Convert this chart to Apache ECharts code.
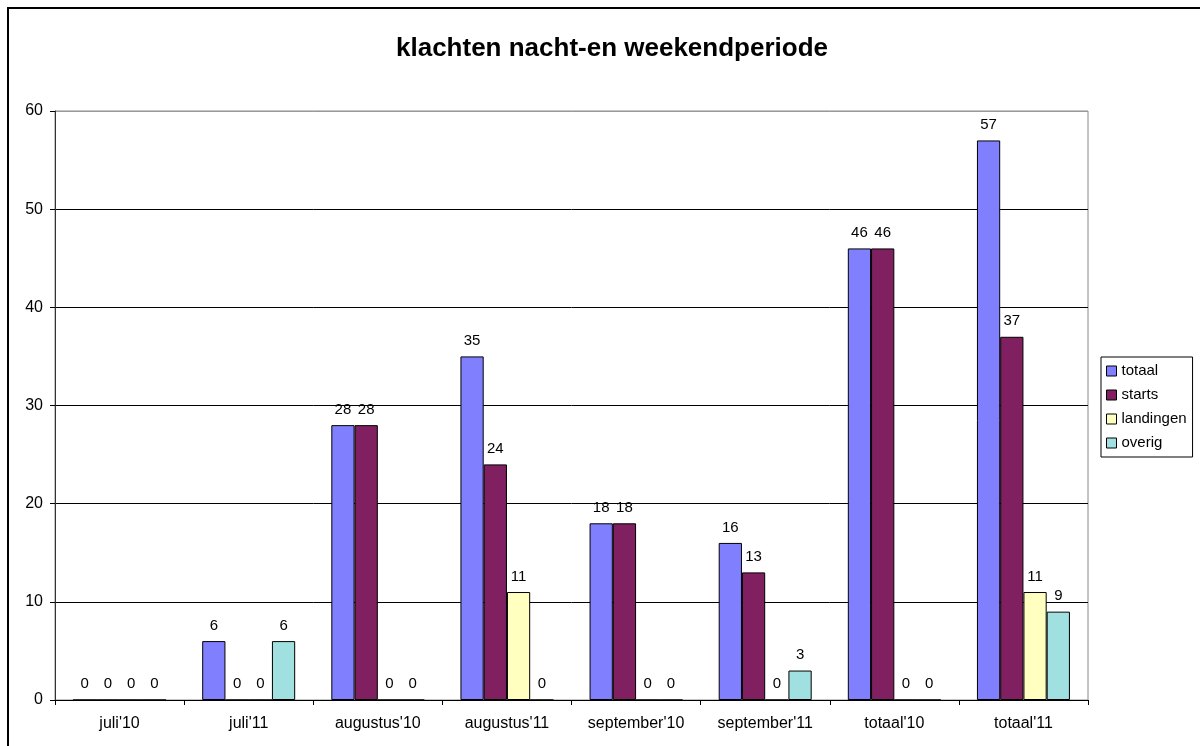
<!DOCTYPE html>
<html><head><meta charset="utf-8">
<script src="https://cdn.jsdelivr.net/npm/echarts@6/dist/echarts.min.js"></script>
<style>html,body{margin:0;padding:0;background:#fff}#c{width:1200px;height:746px}</style>
</head><body><div id="c"></div>
<script>
var categories = ["juli'10","juli'11","augustus'10","augustus'11","september'10","september'11","totaal'10","totaal'11"];
var totaal = [0,6,28,35,18,16,46,57];
var starts = [0,0,28,24,18,13,46,37];
var landingen = [0,0,0,11,0,0,0,11];
var overig = [0,6,0,0,0,3,0,9];
var seriesNames = ["totaal","starts","landingen","overig"];
var seriesColors = ["#8080FF","#802060","#FFFFC0","#A0E0E0"];
var seriesData = [totaal, starts, landingen, overig];

var chart = echarts.init(document.getElementById('c'));
var font = 'Arial, "Liberation Sans", sans-serif';
chart.setOption({
  animation: false,
  textStyle: {fontFamily: font},
  title: {text: 'klachten nacht-en weekendperiode', left: 607, textAlign: 'center', top: 31,
    textStyle: {fontSize: 26, fontWeight: 'bold', color: '#000', fontFamily: font}},
  graphic: [{type: 'rect', shape: {x: 8, y: 8, width: 1400, height: 900}, style: {fill: 'none', stroke: '#000', lineWidth: 2}, silent: true}],
  legend: {orient: 'vertical', left: 1101, top: 357, itemWidth: 10, itemHeight: 10, itemGap: 8,
    padding: [6, 6, 6, 5], borderColor: '#000', borderWidth: 1,
    textStyle: {fontSize: 15, lineHeight: 16, color: '#000', fontFamily: font},
    data: seriesNames.map(function(n){return {name: n, icon: 'rect', itemStyle: {borderColor: '#000', borderWidth: 1}};})},
  grid: {left: 55, right: 112, top: 111, bottom: 46, show: true, borderColor: '#888', borderWidth: 1},
  xAxis: {type: 'category', data: categories,
    axisLine: {lineStyle: {color: '#000', width: 1}},
    axisTick: {show: true, length: 5, lineStyle: {color: '#000'}},
    axisLabel: {fontSize: 16, color: '#000', margin: 16}},
  yAxis: {type: 'value', min: 0, max: 60, interval: 10,
    axisLine: {show: true, lineStyle: {color: '#333'}},
    axisTick: {show: true, length: 5, lineStyle: {color: '#000'}},
    axisLabel: {fontSize: 16, color: '#000', margin: 12},
    splitLine: {lineStyle: {color: ['#000','#000','#000','#000','#000','#000','#999'], width: 1}}},
  series: seriesData.map(function(d, i){
    return {name: seriesNames[i], type: 'bar', data: d, barGap: '0%', barCategoryGap: '28%',
      itemStyle: {color: seriesColors[i], borderColor: '#000', borderWidth: 1},
      label: {show: true, position: 'top', fontSize: 15, color: '#000', distance: 8, fontFamily: font}};
  })
});
</script></body></html>
